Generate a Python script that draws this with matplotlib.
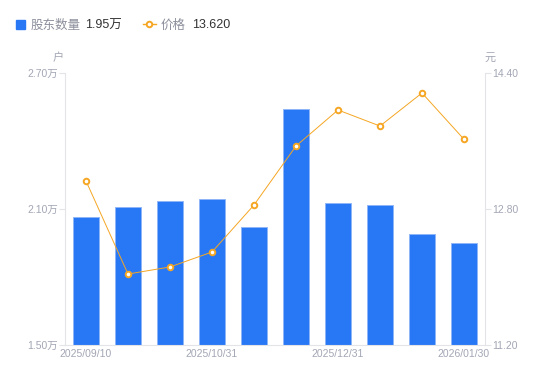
import matplotlib.pyplot as plt
from matplotlib.lines import Line2D
from matplotlib.patches import Rectangle

plt.rcParams['font.family'] = ['Liberation Sans', 'Noto Sans CJK SC', 'DejaVu Sans']

# data
dates = ['2025/09/10', '2025/09/20', '2025/09/30', '2025/10/31', '2025/11/20',
         '2025/11/30', '2025/12/31', '2026/01/09', '2026/01/20', '2026/01/30']
holders = [2.065, 2.109, 2.135, 2.144, 2.02, 2.541, 2.126, 2.118, 1.99, 1.95]  # 万户
price = [13.13, 12.035, 12.118, 12.294, 12.847, 13.541, 13.965, 13.776, 14.165, 13.62]
shown_ticks = [0, 3, 6, 9]

bar_color = '#2878F5'
line_color = '#F5A623'
tick_color = '#A3A6B4'
axis_color = '#E3E4E8'

fig = plt.figure(figsize=(5.5, 3.81), dpi=100)
ax = fig.add_axes([65 / 550, 36 / 381, 420 / 550, 272 / 381])
ax2 = ax.twinx()

x = list(range(len(dates)))
ax.bar(x, holders, width=0.6, color=bar_color, edgecolor='#8DB5F8', linewidth=0.6, zorder=2)
ax.set_xlim(-0.5, len(dates) - 0.5)
ax.set_ylim(1.5, 2.7)
ax.set_yticks([1.5, 2.1, 2.7])
ax.set_yticklabels(['1.50万', '2.10万', '2.70万'])
ax.set_xticks(shown_ticks)
ax.set_xticklabels([dates[i] for i in shown_ticks])

ax2.plot(x, price, color=line_color, linewidth=0.7, marker='o', markersize=4,
         markerfacecolor='white', markeredgecolor=line_color, markeredgewidth=1.4, zorder=3)
ax2.set_ylim(11.2, 14.4)
ax2.set_yticks([11.2, 12.8, 14.4])
ax2.set_yticklabels(['11.20', '12.80', '14.40'])

for a in (ax, ax2):
    for s in a.spines.values():
        s.set_visible(False)
    a.tick_params(colors=tick_color, labelsize=7.5, length=4, width=0.8)
    a.tick_params(axis='y', color=axis_color, pad=1)
ax.tick_params(axis='x', length=0, pad=3)
ax.spines['left'].set_visible(True)
ax.spines['left'].set_color(axis_color)
ax.spines['bottom'].set_visible(True)
ax.spines['bottom'].set_color(axis_color)
ax2.spines['right'].set_visible(True)
ax2.spines['right'].set_color(axis_color)

# axis unit titles
fig.text(58 / 550, 1 - 58 / 381, '户', color=tick_color, fontsize=8, ha='center', va='center')
fig.text(490 / 550, 1 - 58 / 381, '元', color=tick_color, fontsize=8, ha='center', va='center')

# custom legend on top
ly = 1 - 25.5 / 381
fig.patches.append(Rectangle((16 / 550, 1 - 29 / 381), 9 / 550, 9 / 381, transform=fig.transFigure,
                             color=bar_color, figure=fig))
fig.text(31 / 550, ly, '股东数量', color='#8C8F9C', fontsize=9, va='center')
fig.text(85 / 550, ly, '%.2f万' % holders[-1], color='#333333', fontsize=9, va='center')
fig.lines.append(Line2D([143 / 550, 156 / 550], [1 - 24 / 381] * 2, transform=fig.transFigure,
                        color=line_color, linewidth=1, figure=fig))
fig.lines.append(Line2D([149.5 / 550], [1 - 24 / 381], transform=fig.transFigure, marker='o',
                        markersize=4, markerfacecolor='white', markeredgecolor=line_color,
                        markeredgewidth=1.4, figure=fig))
fig.text(161 / 550, ly, '价格', color='#8C8F9C', fontsize=9, va='center')
fig.text(192 / 550, ly, '%.3f' % price[-1], color='#333333', fontsize=9, va='center')

fig.savefig('out.png', dpi=100)
